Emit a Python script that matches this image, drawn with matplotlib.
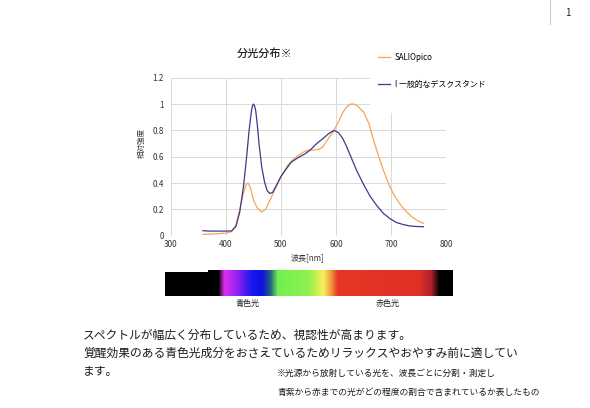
import matplotlib.pyplot as plt
from matplotlib.colors import LinearSegmentedColormap
from matplotlib.patches import Rectangle
from matplotlib.lines import Line2D
import numpy as np

plt.rcParams['font.family'] = ['Noto Sans CJK JP', 'DejaVu Sans']

# DATA
wl_opico = [358, 370, 385, 400, 410, 418, 425, 432, 437, 440, 444, 450, 457, 465,
            472, 480, 489, 500, 513, 525, 535, 543, 550, 558, 568, 575, 580, 588,
            595, 605, 613, 620, 627, 632, 638, 645, 650, 660, 668, 677, 686, 695,
            704, 713, 722, 731, 740, 750, 759]
val_opico = [0.01, 0.012, 0.015, 0.02, 0.03, 0.08, 0.2, 0.33, 0.39, 0.40, 0.37, 0.27,
             0.21, 0.18, 0.20, 0.27, 0.35, 0.45, 0.54, 0.59, 0.62, 0.64, 0.65, 0.65,
             0.656, 0.67, 0.70, 0.75, 0.79, 0.87, 0.94, 0.98, 1.0, 1.0, 0.99, 0.96,
             0.94, 0.85, 0.73, 0.61, 0.50, 0.40, 0.32, 0.26, 0.21, 0.17, 0.137, 0.11,
             0.094]

wl_desk = [358, 370, 385, 400, 410, 418, 425, 432, 438, 442, 446, 448, 450, 452,
           454, 457, 460, 465, 470, 475, 480, 485, 490, 500, 510, 519, 530, 543,
           553, 565, 577, 588, 597, 605, 612, 619, 628, 637, 650, 662, 674, 686,
           698, 710, 722, 734, 746, 759]
val_desk = [0.038, 0.035, 0.035, 0.035, 0.036, 0.07, 0.18, 0.38, 0.62, 0.80, 0.94,
            0.985, 1.0, 0.985, 0.95, 0.84, 0.7, 0.52, 0.41, 0.34, 0.32, 0.33, 0.37,
            0.45, 0.51, 0.56, 0.59, 0.62, 0.65, 0.70, 0.74, 0.78, 0.80, 0.78, 0.74,
            0.68, 0.59, 0.50, 0.39, 0.30, 0.23, 0.17, 0.13, 0.10, 0.085, 0.074,
            0.07, 0.068]

labels = ['SALIOpico', 'I 一般的なデスクスタンド']
xticks = [300, 400, 500, 600, 700, 800]
yticks = [0, 0.2, 0.4, 0.6, 0.8, 1, 1.2]
ytick_labels = ['0', '0.2', '0.4', '0.6', '0.8', '1', '1.2']

# spectrum bar colour stops
spec_pos = [0.0, 0.184, 0.205, 0.253, 0.302, 0.337, 0.365, 0.392, 0.497, 0.531,
            0.549, 0.576, 0.601, 0.885, 0.927, 0.955, 1.0]
spec_col = ['#000000', '#000000', '#e030f0', '#8a20f0', '#1818f0', '#1010e0',
            '#206080', '#70f050', '#90f050', '#d0f050', '#f8f060', '#f0a040',
            '#e83525', '#e03025', '#b02030', '#000000', '#000000']

W, H = 590, 408
fig = plt.figure(figsize=(W / 100, H / 100), dpi=100)


def box(x0, y0, x1, y1):
    # pixel box (top-left origin) -> figure fraction rect
    return [x0 / W, 1 - y1 / H, (x1 - x0) / W, (y1 - y0) / H]


# CHART
ax = fig.add_axes(box(171, 77.7, 446, 235.7))
ax.plot(wl_opico, val_opico, color='#f2a55a', lw=0.9, label=labels[0])
ax.plot(wl_desk, val_desk, color='#3c3a8a', lw=0.9, label=labels[1])
ax.set_xlim(300, 800)
ax.set_ylim(0, 1.2)
ax.set_xticks(xticks)
ax.set_yticks(yticks)
ax.set_yticklabels(ytick_labels)
ax.grid(True, color='#d9d9d9', lw=0.7)
ax.set_axisbelow(True)
for s in ax.spines.values():
    s.set_visible(False)
ax.tick_params(length=0, labelsize=5.8, colors='#333333')
ax.tick_params(axis='x', pad=3)
ax.tick_params(axis='y', pad=5)

fig.text(308 / W, 1 - 258 / H, '波長[nm]', ha='center', va='center', fontsize=5.8, color='#333333')
fig.text(142 / W, 1 - 143 / H, '相対強度', ha='center', va='center', rotation=90,
         fontsize=5.4, color='#333333')
fig.text(265 / W, 1 - 54 / H, '分光分布※', ha='center', va='center', fontsize=8,
         color='#222222', fontweight='medium')

# legend area masks the top right of the grid
fig.patches.append(Rectangle((370 / W, 1 - 113 / H), 175 / W, 63 / H, transform=fig.transFigure,
                             facecolor='white', edgecolor='none', zorder=3))
handles, lab = ax.get_legend_handles_labels()
leg = fig.legend(handles, lab, loc='upper left', bbox_to_anchor=(378 / W, 1 - 53 / H),
                 frameon=False, fontsize=5.7, handlelength=1.5, handletextpad=0.6,
                 labelspacing=2.3, borderaxespad=0, borderpad=0)
leg.set_zorder(4)

# SPECTRUM BAR
cmap = LinearSegmentedColormap.from_list('spec', list(zip(spec_pos, spec_col)))
bx = fig.add_axes(box(165, 270, 453, 296))
bx.imshow(np.linspace(0, 1, 600).reshape(1, -1), aspect='auto', cmap=cmap,
          extent=[0, 1, 0, 1], interpolation='bilinear')
bx.set_axis_off()
fig.patches.append(Rectangle((165 / W, 1 - 272 / H), 43 / W, 2 / H, transform=fig.transFigure,
                             facecolor='white', edgecolor='none', zorder=3))
fig.text(248 / W, 1 - 303 / H, '青色光', ha='center', va='center', fontsize=5.8, color='#222222')
fig.text(388 / W, 1 - 303 / H, '赤色光', ha='center', va='center', fontsize=5.8, color='#222222')

# BODY TEXT
body = ['スペクトルが幅広く分布しているため、視認性が高まります。',
        '覚醒効果のある青色光成分をおさえているためリラックスやおやすみ前に適してい',
        'ます。']
for i, line in enumerate(body):
    fig.text(83 / W, 1 - (335 + 18.5 * i) / H, line, ha='left', va='center',
             fontsize=8.5, color='#1a1a1a')

note = ['※光源から放射している光を、波長ごとに分割・測定し',
        '青紫から赤までの光がどの程度の割合で含まれているか表したもの']
for i, line in enumerate(note):
    fig.text(277 / W, 1 - (373 + 19 * i) / H, line, ha='left', va='center',
             fontsize=6.3, color='#1a1a1a')

# page number
fig.add_artist(Line2D([550 / W, 550 / W], [1, 1 - 24 / H], color='#cccccc', lw=0.8))
fig.text(568 / W, 1 - 13 / H, '1', ha='center', va='center', fontsize=7, color='#222222')

fig.savefig('out.png', dpi=100)
